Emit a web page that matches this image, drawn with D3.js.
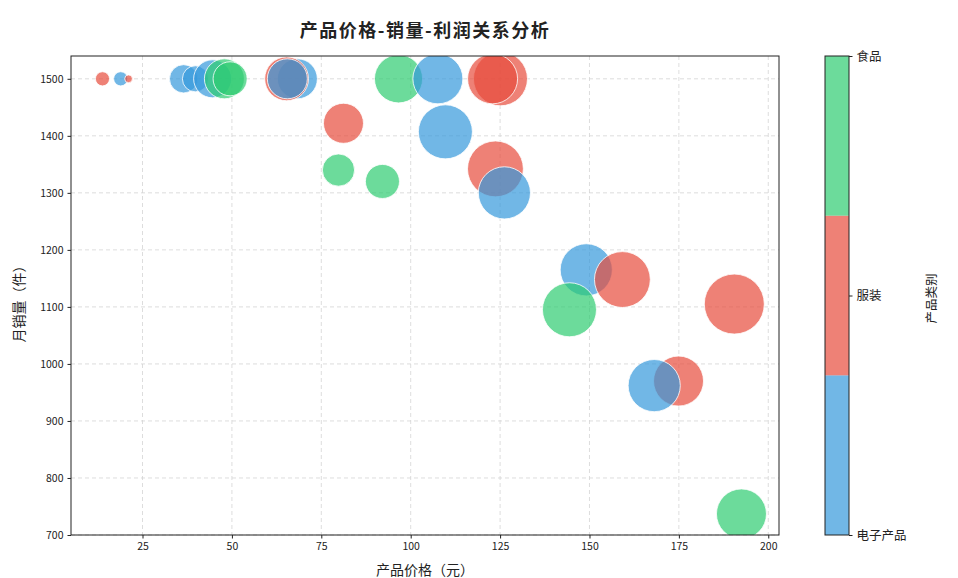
<!DOCTYPE html>
<html>
<head>
<meta charset="utf-8">
<script src="https://cdn.jsdelivr.net/npm/d3@7"></script>
<style>
  body { margin: 0; background: #fff; }
  text { font-family: "Noto Sans CJK SC", "DejaVu Sans", sans-serif; fill: #222; }
</style>
</head>
<body>
<div id="chart"></div>
<script>
// categories and colours
var categories = ["电子产品", "服装", "食品"];
var catColors = ["#3498db", "#e74c3c", "#2ecc71"];

// one entry per product, in drawing order
var prices = [13.8, 18.9, 21.1, 36.5, 39.8, 44.6, 47.9, 49.5, 68.3, 65.3, 65.5,
              96.6, 107.6, 125.1, 122.9, 81.2, 109.7, 79.8, 92.1, 123.7, 126.2,
              149.1, 159.2, 144.4, 190.5, 174.9, 168.1, 192.5];
var sales = [1500, 1500, 1500, 1500, 1500, 1500, 1500, 1500, 1500, 1500, 1500,
             1500, 1500, 1500, 1500, 1422, 1407, 1340, 1320, 1342, 1300,
             1165, 1148, 1095, 1105, 970, 962, 737];
var profits = [50, 50, 15, 200, 170, 360, 400, 290, 400, 480, 400,
               580, 625, 730, 625, 400, 730, 260, 290, 780, 680,
               680, 780, 730, 900, 625, 680, 625];
var catIndex = [1, 0, 1, 0, 0, 0, 2, 2, 0, 1, 0,
                2, 0, 1, 1, 1, 0, 2, 2, 1, 0,
                0, 1, 2, 1, 1, 0, 2];

var xTicks = [25, 50, 75, 100, 125, 150, 175, 200];
var yTicks = [700, 800, 900, 1000, 1100, 1200, 1300, 1400, 1500];

var W = 958, H = 578;
var margin = ({ top: 56, right: 179, bottom: 43, left: 71 });
var plotW = W - margin.left - margin.right;
var plotH = H - margin.top - margin.bottom;

var svg = d3.select("#chart").append("svg")
    .attr("width", W)
    .attr("height", H);

var x = d3.scaleLinear().domain([5, 203]).range([0, plotW]);
var y = d3.scaleLinear().domain([700, 1540]).range([plotH, 0]);
var r = d3.scaleSqrt().domain([0, 900]).range([0, 30]);

var g = svg.append("g")
    .attr("transform", `translate(${margin.left}, ${margin.top})`);

g.append("clipPath").attr("id", "plotclip")
    .append("rect").attr("width", plotW).attr("height", plotH);

// grid
g.append("g").selectAll("line")
    .data(xTicks)
    .enter().append("line")
    .attr("x1", d => x(d)).attr("x2", d => x(d))
    .attr("y1", 0).attr("y2", plotH)
    .attr("stroke", "#d4d4d4")
    .attr("stroke-dasharray", "4,3")
    .attr("stroke-width", 0.8);
g.append("g").selectAll("line")
    .data(yTicks)
    .enter().append("line")
    .attr("y1", d => y(d)).attr("y2", d => y(d))
    .attr("x1", 0).attr("x2", plotW)
    .attr("stroke", "#d4d4d4")
    .attr("stroke-dasharray", "4,3")
    .attr("stroke-width", 0.8);

// bubbles
g.append("g")
    .attr("clip-path", "url(#plotclip)")
    .selectAll("circle")
    .data(d3.range(prices.length))
    .enter().append("circle")
    .attr("cx", i => x(prices[i]))
    .attr("cy", i => y(sales[i]))
    .attr("r", i => r(profits[i]))
    .attr("fill", i => catColors[catIndex[i]])
    .attr("fill-opacity", 0.7)
    .attr("stroke", "#fff")
    .attr("stroke-opacity", 0.8)
    .attr("stroke-width", 1);

// axes
var xAxis = g.append("g")
    .attr("transform", `translate(0, ${plotH})`)
    .call(d3.axisBottom(x).tickValues(xTicks).tickSize(3.5).tickPadding(4));
var yAxis = g.append("g")
    .call(d3.axisLeft(y).tickValues(yTicks).tickFormat(d3.format("d")).tickSize(3.5).tickPadding(4));
[xAxis, yAxis].forEach(function(a) {
    a.select(".domain").remove();
    a.selectAll("text").attr("font-size", 10.5).style("font-family", "'Noto Sans CJK SC', sans-serif").attr("fill", "#222");
    a.selectAll("line").attr("stroke", "#222");
});

g.append("rect")
    .attr("width", plotW).attr("height", plotH)
    .attr("fill", "none").attr("stroke", "#222").attr("stroke-width", 1);

// titles
svg.append("text")
    .attr("x", margin.left + plotW / 2).attr("y", 37)
    .attr("text-anchor", "middle")
    .attr("font-size", 18).attr("font-weight", "bold")
    .attr("letter-spacing", 1.5)
    .text("产品价格-销量-利润关系分析");

svg.append("text")
    .attr("x", margin.left + plotW / 2).attr("y", 575)
    .attr("text-anchor", "middle")
    .attr("font-size", 14)
    .text("产品价格（元）");

svg.append("text")
    .attr("transform", `translate(24, ${margin.top + plotH / 2 + 5}) rotate(-90)`)
    .attr("text-anchor", "middle")
    .attr("font-size", 14)
    .text("月销量（件）");

// colour bar
var cbX = 825, cbW = 24;
var cb = svg.append("g").attr("transform", `translate(${cbX}, ${margin.top})`);
var cbScale = d3.scaleLinear().domain([0, categories.length - 1]).range([plotH, 0]);
var segH = plotH / categories.length;

cb.selectAll("rect.seg")
    .data(categories)
    .enter().append("rect")
    .attr("class", "seg")
    .attr("x", 0)
    .attr("y", (d, i) => plotH - (i + 1) * segH)
    .attr("width", cbW)
    .attr("height", segH)
    .attr("fill", (d, i) => catColors[i])
    .attr("fill-opacity", 0.7);

cb.append("rect")
    .attr("width", cbW).attr("height", plotH)
    .attr("fill", "none").attr("stroke", "#222").attr("stroke-width", 1);

var cbAxis = cb.append("g")
    .attr("transform", `translate(${cbW}, 0)`)
    .call(d3.axisRight(cbScale).tickValues([0, 1, 2]).tickFormat(i => categories[i]).tickSize(3.5).tickPadding(4));
cbAxis.select(".domain").remove();
cbAxis.selectAll("text").attr("font-size", 12.5).style("font-family", "'Noto Sans CJK SC', sans-serif").attr("fill", "#222");
cbAxis.selectAll("line").attr("stroke", "#222");

svg.append("text")
    .attr("transform", `translate(936, ${margin.top + plotH / 2 + 3}) rotate(-90)`)
    .attr("text-anchor", "middle")
    .attr("font-size", 12.5)
    .text("产品类别");
</script>
</body>
</html>
